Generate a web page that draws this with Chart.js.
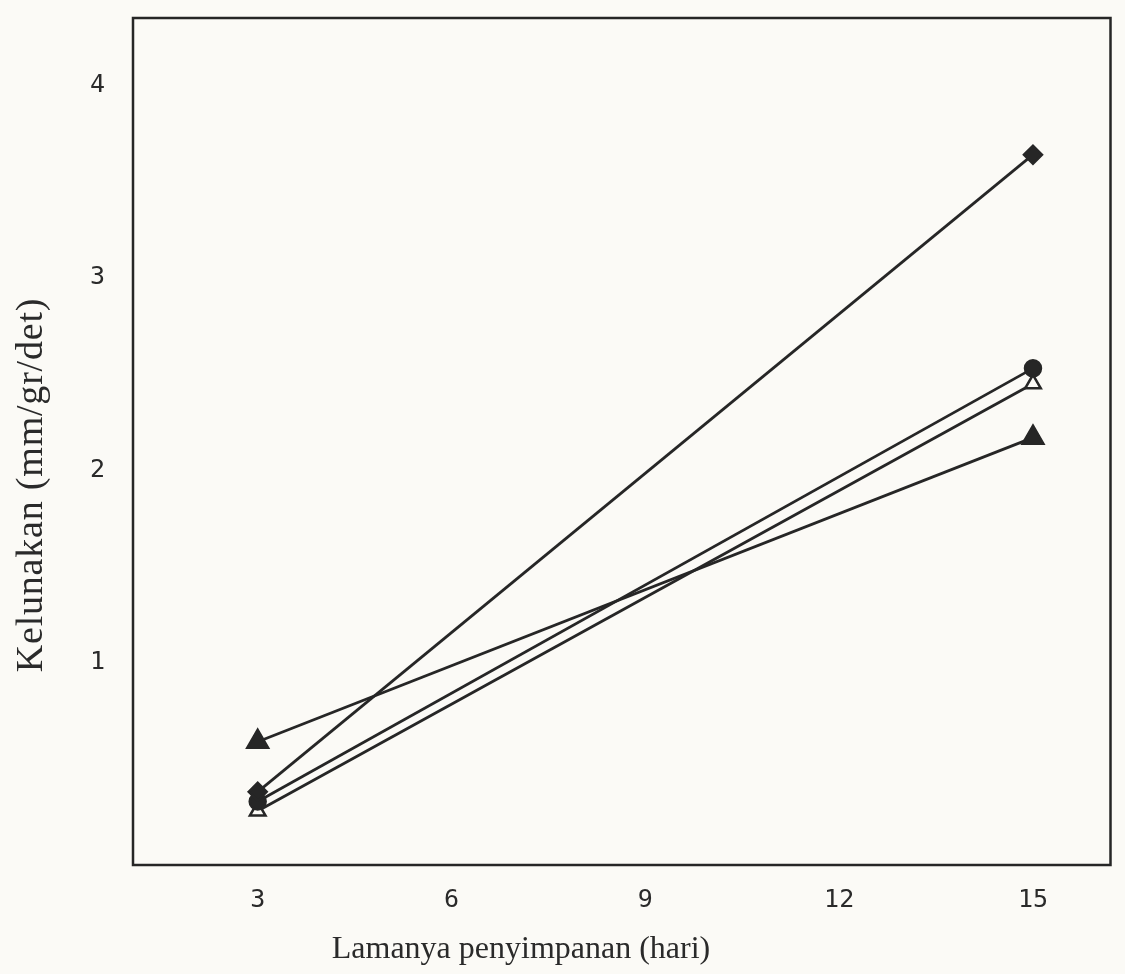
<!DOCTYPE html>
<html>
<head>
<meta charset="utf-8">
<script src="https://cdn.jsdelivr.net/npm/chart.js@4.4.1/dist/chart.umd.min.js"></script>
<style>
  html, body { margin: 0; padding: 0; background: #fbfaf6; }
  #wrap { width: 1125px; height: 974px; }
</style>
</head>
<body>
<div id="wrap"><canvas id="softening" width="1125" height="974"></canvas></div>
<script>
// storage time (days) and softening values per treatment
var days = [3, 15];
var seriesA = [0.33, 3.64];
var seriesB = [0.28, 2.53];
var seriesC = [0.23, 2.45];
var seriesD = [0.59, 2.17];
var xTicks = [3, 6, 9, 12, 15];
var yTicks = [1, 2, 3, 4];
var xTitle = 'Lamanya penyimpanan (hari)';
var yTitle = 'Kelunakan (mm/gr/det)';

var ink = '#262626';

function pts(ys) {
	return days.map(function (d, i) { return {x: d, y: ys[i]}; });
}

function line(data, style, radius, fillColor) {
	return {
		data: pts(data),
		borderColor: ink,
		borderWidth: 2.8,
		backgroundColor: ink,
		pointStyle: style,
		pointRadius: radius,
		pointBorderColor: ink,
		pointBackgroundColor: fillColor || ink,
		pointBorderWidth: 2.5,
		fill: false,
		tension: 0
	};
}

// frame and axis titles
var framePlugin = {
	id: 'frame',
	afterDraw: function (chart) {
		var ctx = chart.ctx, a = chart.chartArea;
		ctx.save();
		ctx.strokeStyle = ink;
		ctx.lineWidth = 2.5;
		ctx.strokeRect(a.left, a.top, a.right - a.left, a.bottom - a.top);
		ctx.fillStyle = '#2a2a2a';
		ctx.textAlign = 'center';
		ctx.textBaseline = 'middle';
		ctx.font = '32px "Liberation Serif"';
		ctx.fillText(xTitle, 521, 950);
		ctx.translate(32, 485);
		ctx.rotate(-Math.PI / 2);
		ctx.font = '38px "Liberation Serif"';
		ctx.letterSpacing = '0.8px';
		ctx.fillText(yTitle, 0, 0);
		ctx.restore();
	}
};

var ctx = document.getElementById('softening').getContext('2d');
var chart = new Chart(ctx, {
	type: 'line',
	data: {
		datasets: [
			line(seriesA, 'rectRot', 9),
			line(seriesB, 'circle', 8),
			line(seriesC, 'triangle', 9, '#fbfaf6'),
			line(seriesD, 'triangle', 12)
		]
	},
	options: {
		responsive: false,
		animation: false,
		devicePixelRatio: 1,
		layout: { padding: { left: 0, top: 18, right: 10, bottom: 0 } },
		plugins: { legend: { display: false }, tooltip: { enabled: false } },
		scales: {
			x: {
				type: 'linear',
				min: 1.07,
				max: 16.2,
				grid: { display: false, drawTicks: false },
				border: { display: false },
				afterBuildTicks: function (s) { s.ticks = xTicks.map(function (v) { return {value: v}; }); },
				afterFit: function (s) { s.height = 109; s.paddingLeft = 0; s.paddingRight = 0; },
				ticks: { color: '#2a2a2a', padding: 20, font: { family: 'DejaVu Sans Mono', size: 25 } }
			},
			y: {
				type: 'linear',
				min: -0.05,
				max: 4.35,
				grid: { display: false, drawTicks: false },
				border: { display: false },
				afterBuildTicks: function (s) { s.ticks = yTicks.map(function (v) { return {value: v}; }); },
				afterFit: function (s) { s.width = 133; s.paddingTop = 0; s.paddingBottom = 0; },
				ticks: { color: '#2a2a2a', padding: 28, font: { family: 'DejaVu Sans Mono', size: 25 } }
			}
		}
	},
	plugins: [framePlugin]
});
</script>
</body>
</html>
